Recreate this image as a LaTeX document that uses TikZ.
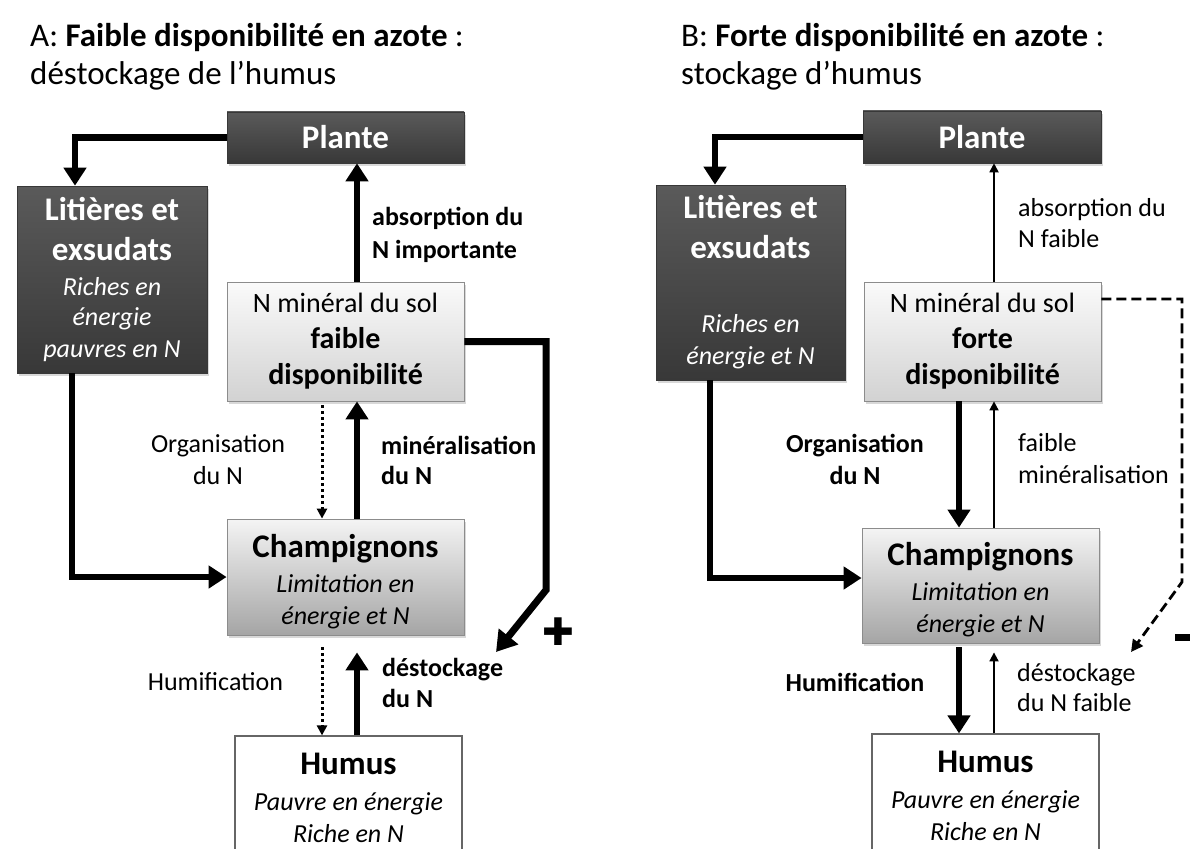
\documentclass[tikz,border=0pt]{standalone}
\usepackage{fontspec}
\setmainfont{Carlito}
\newfontfamily\djv{DejaVu Sans}
\usetikzlibrary{arrows.meta,shadows,calc}
\definecolor{darkT}{RGB}{90,90,90}
\definecolor{darkB}{RGB}{56,56,56}
\definecolor{lightT}{RGB}{250,250,250}
\definecolor{lightB}{RGB}{210,210,210}
\definecolor{champT}{RGB}{244,244,244}
\definecolor{champB}{RGB}{165,165,165}
\definecolor{edgegray}{RGB}{140,140,140}
\newcommand\bt[1]{{\fontsize{33}{36}\selectfont\bfseries #1}}
\newcommand\bm[1]{{\fontsize{30}{36}\selectfont\bfseries #1}}
\newcommand\rt[1]{{\fontsize{28}{36}\selectfont #1}}
\newcommand\st[1]{{\fontsize{26}{32}\selectfont\itshape #1}}
\begin{document}
\begin{tikzpicture}[x=1pt,y=-1pt,
  boxbase/.style={rectangle, inner sep=0pt, align=center, font=\fontsize{26}{32}\selectfont},
  shad/.style={drop shadow={shadow xshift=2pt,shadow yshift=-3pt,opacity=0.3}},
  darkbox/.style={boxbase, shad, top color=darkT, bottom color=darkB, draw=darkB, line width=0.6pt, text=white},
  lightbox/.style={boxbase, shad, top color=lightT, bottom color=lightB, draw=edgegray, line width=0.8pt},
  champbox/.style={boxbase, shad, top color=champT, bottom color=champB, draw=edgegray, line width=0.8pt},
  humbox/.style={boxbase, fill=white, draw=black!60, line width=1.2pt},
  bigarrow/.style={line width=6.5pt, -{Triangle[length=18pt,width=22pt]}},
  looparrow/.style={line width=7pt, -{Triangle[length=20pt,width=24pt]}},
  thinarrow/.style={line width=1.8pt, -{Triangle[length=9pt,width=9pt]}},
  dotarrow/.style={line width=3pt, dash pattern=on 3pt off 3pt, -{Triangle[length=10pt,width=10pt]}},
  dasharrow/.style={line width=2.8pt, dash pattern=on 10pt off 5pt, -{Triangle[length=12pt,width=12pt]}},
  lab/.style={inner sep=0pt, font=\fontsize{26}{32}\selectfont},
  ttl/.style={inner sep=0pt, anchor=west, align=left, font=\fontsize{33}{38}\selectfont}
]
\useasboundingbox (0,0) rectangle (1190,848);
\clip (0,0) rectangle (1190,848);
\fill[white] (0,0) rectangle (1190,848);

% ---------- titles
\node[ttl] (tA) at (30,57) {A: \textbf{Faible disponibilité en azote} :\\déstockage de l’humus};
\node[ttl] (tB) at (681,57) {B: \textbf{Forte disponibilité en azote} :\\stockage d’humus};

% ---------- panel A boxes
\node[darkbox, minimum width=237pt, minimum height=51pt] (plA) at (345.5,137.5) {\bt{Plante}};
\node[darkbox, minimum width=190pt, minimum height=187pt] (litA) at (112,279.5)
  {\bt{Litières et}\\[8pt]\bt{exsudats}\\[3pt]\st{Riches en}\\[-2pt]\st{énergie}\\\st{pauvres en N}};
\node[lightbox, minimum width=237pt, minimum height=119pt, font=\fontsize{30}{36}\selectfont] (nA) at (345.5,341.5)
  {\rt{N minéral du sol}\\\bm{faible}\\\bm{disponibilité}};
\node[champbox, minimum width=237pt, minimum height=116pt] (chA) at (345.5,577)
  {\bt{\rule{0pt}{32pt}Champignons}\\[3pt]\st{Limitation en}\\\st{énergie et N}};
\node[humbox, minimum width=227pt, minimum height=124pt] (huA) at (348.5,798)
  {\bt{Humus}\\[4pt]\st{Pauvre en énergie}\\\st{Riche en N}};

% ---------- panel B boxes
\node[darkbox, minimum width=238pt, minimum height=52pt] (plB) at (982,137) {\bt{Plante}};
\node[darkbox, minimum width=189pt, minimum height=195pt] (litB) at (750.5,282.5)
  {\bt{Litières et}\\[8pt]\bt{exsudats}\\[42pt]\st{Riches en}\\\st{énergie et N}};
\node[lightbox, minimum width=237pt, minimum height=119pt, font=\fontsize{30}{36}\selectfont] (nB) at (982.5,341.5)
  {\rt{N minéral du sol}\\\bm{forte}\\\bm{disponibilité}};
\node[champbox, minimum width=237pt, minimum height=115pt] (chB) at (980.5,585.5)
  {\bt{\rule{0pt}{32pt}Champignons}\\[3pt]\st{Limitation en}\\\st{énergie et N}};
\node[humbox, minimum width=227pt, minimum height=124pt] (huB) at (985.5,796)
  {\bt{Humus}\\[4pt]\st{Pauvre en énergie}\\\st{Riche en N}};

% ---------- helper x positions
\coordinate (xa1) at (357,0);
\coordinate (xa2) at (322,0);
\coordinate (xa3) at (75,0);
\coordinate (xa4) at (72,0);
\coordinate (xb1) at (994,0);
\coordinate (xb2) at (959,0);
\coordinate (xb3) at (715,0);
\coordinate (xb4) at (710,0);

% ---------- panel A arrows
\draw[bigarrow] (plA.west) -| (xa3 |- litA.north);
\draw[bigarrow] (xa4 |- litA.south) |- (chA.west);
\draw[bigarrow] (xa1 |- nA.north) -- (xa1 |- plA.south);
\draw[bigarrow] (xa1 |- chA.north) -- (xa1 |- nA.south);
\draw[dotarrow, shorten <=4pt] (xa2 |- nA.south) -- (xa2 |- chA.north);
\draw[dotarrow, shorten <=12pt] (xa2 |- chA.south) -- (xa2 |- huA.north);
\draw[bigarrow, shorten >=17pt] (xa1 |- huA.north) -- (xa1 |- chA.south);
\coordinate (loopA) at (546,590);
\coordinate (tipA) at (496,652);
\draw[looparrow] (nA.east) -| (loopA) -- (tipA);
\node[inner sep=0pt, font=\djv\fontsize{38}{38}\selectfont] (plus) at (558,632) {✚};

% ---------- panel A labels
\node[lab, anchor=west, align=left, font=\fontsize{26}{33}\selectfont\bfseries] (absA) at (372,234.5) {absorption du\\N importante};
\node[lab, align=center] (orgA) at (218,460) {Organisation\\du N};
\node[lab, anchor=west, align=left, font=\fontsize{26}{30}\selectfont\bfseries] (minA) at (381,460) {minéralisation\\du N};
\node[lab] (humA) at (215.5,682) {Humification};
\node[lab, anchor=west, align=left, font=\fontsize{26}{31}\selectfont\bfseries] (desA) at (382,682.5) {déstockage\\du N};

% ---------- panel B arrows
\draw[bigarrow] (plB.west) -| (xb3 |- litB.north);
\draw[bigarrow] (xb4 |- litB.south) |- ([yshift=7.5pt]chB.west);
\draw[thinarrow] (xb1 |- nB.north) -- (xb1 |- plB.south);
\draw[bigarrow] (xb2 |- nB.south) -- (xb2 |- chB.north);
\draw[thinarrow] (xb1 |- chB.north) -- (xb1 |- nB.south);
\draw[bigarrow, shorten <=4pt] (xb2 |- chB.south) -- (xb2 |- huB.north);
\draw[thinarrow, shorten >=9pt] (xb1 |- huB.north) -- (xb1 |- chB.south);
\coordinate (dashA) at ([yshift=42.5pt]nB.east);
\coordinate (loopB) at (1182,582);
\coordinate (tipB) at (1131,652);
\draw[dasharrow] (dashA) -| (loopB) -- (tipB);
\node[fill=black, inner sep=0pt, minimum width=20pt, minimum height=7pt, anchor=west] (minus) at (1175,637) {};

% ---------- panel B labels
\node[lab, anchor=west, align=left, font=\fontsize{26}{31}\selectfont] (absB) at (1018,223.5) {absorption du\\N faible};
\node[lab, align=center, font=\fontsize{26}{32}\selectfont\bfseries] (orgB) at (855,459) {Organisation\\du N};
\node[lab, anchor=west, align=left] (minB) at (1018,459) {faible\\minéralisation};
\node[lab, font=\fontsize{26}{32}\selectfont\bfseries] (humB) at (855,682) {Humification};
\node[lab, anchor=west, align=left, font=\fontsize{26}{30}\selectfont] (desB) at (1017,688) {déstockage\\du N faible};
\end{tikzpicture}
\end{document}
